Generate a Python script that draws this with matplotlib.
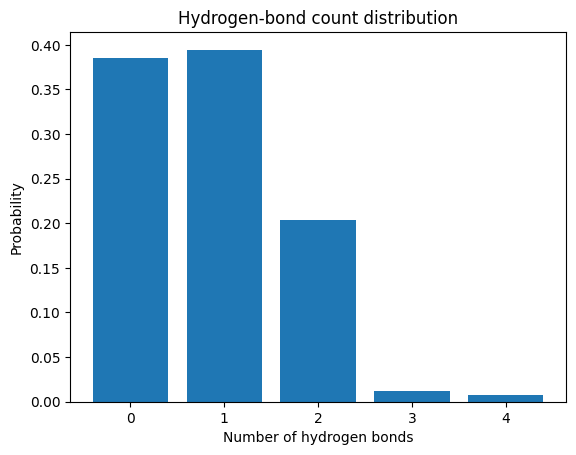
import matplotlib
matplotlib.use('Agg')
import matplotlib.pyplot as plt

# hydrogen bond counts and their probabilities
counts = [0, 1, 2, 3, 4]
probs = [0.3855, 0.3945, 0.2040, 0.0115, 0.0071]

fig, ax = plt.subplots(figsize=(6.4, 4.8), dpi=100)
ax.bar(counts, probs)
ax.set_xlabel("Number of hydrogen bonds")
ax.set_ylabel("Probability")
ax.set_title("Hydrogen-bond count distribution")

plt.savefig("out.png", dpi=100, bbox_inches='tight')
plt.close(fig)
